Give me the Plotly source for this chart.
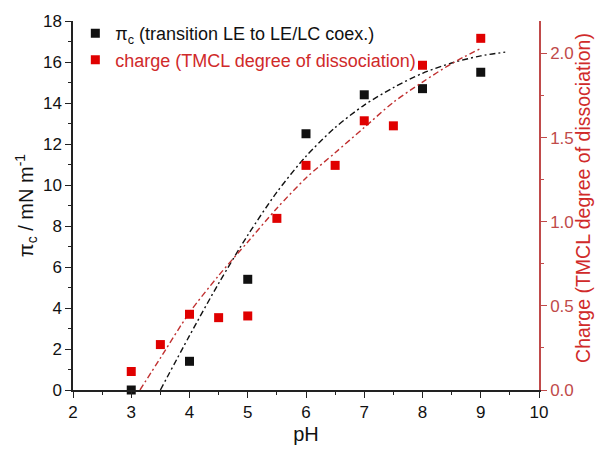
import plotly.graph_objects as go

# Measured transition pressure pi_c versus pH
ph_pi = [3, 4, 5, 6, 7, 8, 9]
pi_c = [0.0, 1.4, 5.4, 12.5, 14.4, 14.7, 15.5]

# TMCL degree of dissociation versus pH
ph_charge = [3, 3.5, 4, 4.5, 5, 5.5, 6, 6.5, 7, 7.5, 8, 9]
charge = [0.11, 0.27, 0.45, 0.43, 0.44, 1.02, 1.335, 1.335, 1.60, 1.57, 1.93, 2.09]

# Fitted trend curves
fit_ph_pi = [3.5, 4.0, 4.5, 5.0, 5.5, 6.0, 6.5, 7.0, 7.5, 8.0, 8.5, 9.0, 9.42]
fit_pi = [0.0, 2.65, 5.2, 7.55, 9.65, 11.4, 12.8, 13.9, 14.75, 15.45, 15.95, 16.3, 16.48]
fit_ph_charge = [3.15, 3.5, 4.0, 4.5, 5.0, 5.5, 6.0, 6.5, 7.0, 7.5, 8.0, 8.5, 9.0]
fit_charge = [0.0, 0.19, 0.46, 0.68, 0.88, 1.08, 1.26, 1.41, 1.56, 1.71, 1.83, 1.94, 2.03]

BLACK = "#111111"
RED = "#e00000"
RED_AXIS = "#c04a4a"
RED_TEXT = "#d02a2a"
FONT = "Arial, Liberation Sans, sans-serif"
DASH = "6px,3px,2px,3px"

fig = go.Figure()

fig.add_trace(go.Scatter(
    x=fit_ph_pi, y=fit_pi, mode="lines",
    line=dict(color=BLACK, width=1.4, dash=DASH, shape="spline", smoothing=0.8),
    showlegend=False, hoverinfo="skip"))
fig.add_trace(go.Scatter(
    x=fit_ph_charge, y=fit_charge, mode="lines", yaxis="y2",
    line=dict(color="#c03030", width=1.4, dash=DASH, shape="spline", smoothing=0.8),
    showlegend=False, hoverinfo="skip"))

fig.add_trace(go.Scatter(
    x=ph_pi, y=pi_c, mode="markers", name="π<sub>c</sub> (transition LE to LE/LC coex.)",
    marker=dict(symbol="square", size=9, color=BLACK), cliponaxis=False))
fig.add_trace(go.Scatter(
    x=ph_charge, y=charge, mode="markers", yaxis="y2",
    name=f'<span style="color:{RED_TEXT}">charge (TMCL degree of dissociation)</span>',
    marker=dict(symbol="square", size=9, color=RED), cliponaxis=False))

axis_common = dict(
    showgrid=False, zeroline=False, showline=True, linewidth=1.5,
    ticks="outside", ticklen=6, tickwidth=1.3,
)

fig.update_layout(
    width=600, height=454,
    margin=dict(l=73, r=61, t=20, b=59),
    paper_bgcolor="white", plot_bgcolor="white",
    font=dict(family=FONT, size=17, color=BLACK),
    xaxis=dict(
        **axis_common, range=[2, 10], dtick=1, tick0=2, linecolor="#222222", tickcolor="#222222",
        minor=dict(ticks="outside", ticklen=3, dtick=0.5, tickcolor="#222222"),
        title=dict(text="pH", font=dict(size=20), standoff=6),
        tickfont=dict(size=17),
    ),
    yaxis=dict(
        **axis_common, range=[0, 18], dtick=2, linecolor="#222222", tickcolor="#222222",
        minor=dict(ticks="outside", ticklen=3, dtick=1, tickcolor="#222222"),
        title=dict(text="π<sub>c</sub> / mN m<sup>-1</sup>", font=dict(size=20), standoff=4),
        tickfont=dict(size=17),
    ),
    yaxis2=dict(
        **axis_common, overlaying="y", side="right", range=[0, 2.193], dtick=0.5,
        tickformat=".1f", linecolor=RED_AXIS, tickcolor=RED_AXIS,
        minor=dict(ticks="outside", ticklen=3, dtick=0.25, tickcolor=RED_AXIS),
        tickfont=dict(size=17, color=RED_AXIS),
    ),
    annotations=[dict(
        text="Charge (TMCL degree of dissociation)", textangle=-90,
        xref="paper", yref="paper", x=1.094, y=0.52, xanchor="center", yanchor="middle",
        showarrow=False, font=dict(size=19.5, color=RED_TEXT),
    )],
    legend=dict(
        x=0.005, y=1.016, xanchor="left", yanchor="top", bgcolor="rgba(0,0,0,0)",
        font=dict(size=18, color=BLACK), tracegroupgap=0, itemwidth=30,
    ),
)

fig.write_html("out.html")
